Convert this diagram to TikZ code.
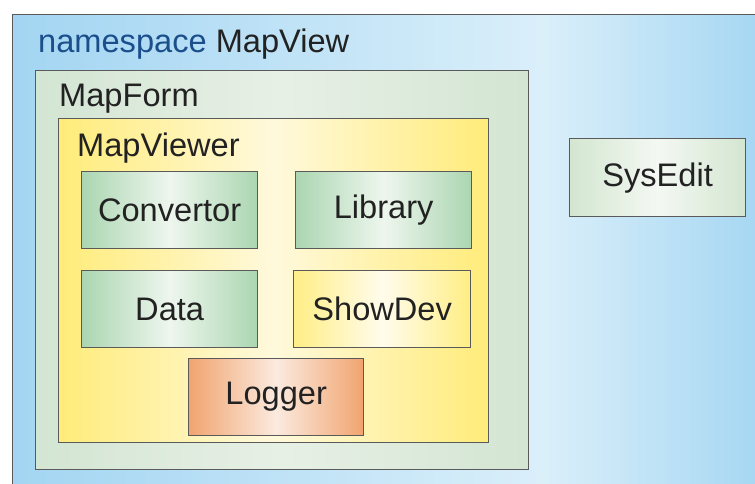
\documentclass[tikz,border=0pt]{standalone}
\usepackage{fontspec}
\setmainfont{Liberation Sans}
\definecolor{edgegray}{HTML}{5A5A5A}
\definecolor{inktext}{HTML}{222222}
\definecolor{nsblue}{HTML}{1B4F8C}
\definecolor{skyedge}{HTML}{A3D5F2}
\definecolor{skylight}{HTML}{DAEFFA}
\definecolor{formedge}{HTML}{D3E5D3}
\definecolor{formmid}{HTML}{E7F0E5}
\definecolor{viewedge}{HTML}{FFEC7A}
\definecolor{viewmid}{HTML}{FFF9DC}
\definecolor{greenedge}{HTML}{ABD6B1}
\definecolor{greenmid}{HTML}{EEF6EE}
\definecolor{yellowedge}{HTML}{FFEE85}
\definecolor{yellowmid}{HTML}{FFFCEC}
\definecolor{orangeedge}{HTML}{F1A46F}
\definecolor{orangemid}{HTML}{FBEADF}
\definecolor{paleedge}{HTML}{D3E6D0}
\definecolor{palemid}{HTML}{F4F8F3}
% horizontal blue wash, brightest a little right of centre
\pgfdeclarehorizontalshading{skywash}{100bp}{color(0bp)=(skyedge); color(25bp)=(skyedge); color(60bp)=(skylight); color(75bp)=(skyedge); color(100bp)=(skyedge)}
\tikzset{
  frame/.style={draw=edgegray, line width=1.3pt, inner sep=0pt, anchor=north west,
    font=\fontsize{32.6}{38}\selectfont, text=inktext},
  greenbox/.style={frame, left color=greenedge, right color=greenedge, middle color=greenmid},
  yellowbox/.style={frame, left color=yellowedge, right color=yellowedge, middle color=yellowmid},
  orangebox/.style={frame, left color=orangeedge, right color=orangeedge, middle color=orangemid},
  palebox/.style={frame, left color=paleedge, right color=paleedge, middle color=palemid},
  title/.style={anchor=base west, inner sep=0pt, font=\fontsize{32.6}{38}\selectfont, text=inktext}
}
\begin{document}
\begin{tikzpicture}[x=1pt, y=-1pt]
  \useasboundingbox (0,0) rectangle (755,483);
  \clip (0,0) rectangle (755,483);
  % namespace container (runs off the right and bottom edges)
  \node[frame, shading=skywash, minimum width=760pt, minimum height=480pt] (ns) at (12,14) {};
  \node[title] (nslabel) at (38,52) {\textcolor{nsblue}{namespace} MapView};
  % MapForm
  \node[frame, left color=formedge, right color=formedge, middle color=formmid,
        minimum width=493pt, minimum height=399pt] (form) at (35,70) {};
  \node[title] (formlabel) at (59,106) {MapForm};
  % MapViewer
  \node[frame, left color=viewedge, right color=viewedge, middle color=viewmid,
        minimum width=430pt, minimum height=324pt] (viewer) at (58,118) {};
  \node[title] (viewerlabel) at (77,156) {MapViewer};
  % components
  \node[greenbox, minimum width=176pt, minimum height=77pt] (conv) at (81,171) {Convertor};
  \node[greenbox, minimum width=176pt, minimum height=77pt] (lib) at (295,171) {Library};
  \node[greenbox, minimum width=176pt, minimum height=77pt] (data) at (81,270) {Data};
  \node[yellowbox, minimum width=177pt, minimum height=77pt] (show) at (293,270) {ShowDev};
  \node[orangebox, minimum width=175pt, minimum height=77pt] (log) at (188,358) {Logger};
  \node[palebox, minimum width=176pt, minimum height=78pt] (sys) at (569,138) {SysEdit};
\end{tikzpicture}
\end{document}
